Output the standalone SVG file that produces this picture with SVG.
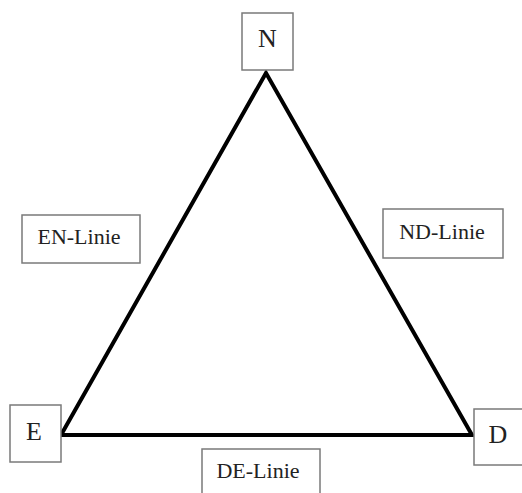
<svg xmlns="http://www.w3.org/2000/svg" width="522" height="493" viewBox="0 0 522 493">
<style>
.box{fill:#fff;stroke:#7a7a7a;stroke-width:1.5}
.t{font-family:"Liberation Serif","Times New Roman",serif;font-size:22px;fill:#222;text-anchor:middle}
.l{font-size:26px}
.edge{fill:none;stroke:#000;stroke-width:4;stroke-linejoin:miter}
</style>
<rect width="522" height="493" fill="#fff"/>
<g id="connectors">
<polygon class="edge" points="266,73 61,435 472,435"/>
</g>
<g id="N"><rect class="box" x="242" y="13" width="51" height="57"/><text class="t l" x="267.5" y="47">N</text></g>
<g id="E"><rect class="box" x="10" y="405" width="51" height="57"/><text class="t l" x="34" y="440">E</text></g>
<g id="D"><rect class="box" x="474" y="409" width="52" height="56"/><text class="t l" x="498" y="443">D</text></g>
<g id="EN-Linie"><rect class="box" x="22" y="215" width="118" height="48"/><text class="t" x="79" y="244">EN-Linie</text></g>
<g id="ND-Linie"><rect class="box" x="383" y="209" width="120" height="49"/><text class="t" x="442" y="239">ND-Linie</text></g>
<g id="DE-Linie"><rect class="box" x="202" y="449" width="118" height="50"/><text class="t" x="258" y="478">DE-Linie</text></g>
</svg>
